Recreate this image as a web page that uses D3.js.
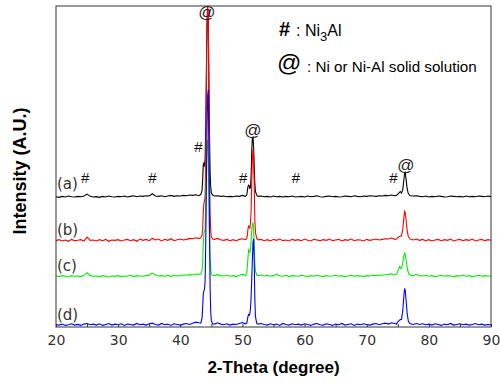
<!DOCTYPE html>
<meta charset="UTF-8">
<html>
<head>
	<title>XRD patterns</title>
	<script src="https://d3js.org/d3.v7.min.js"></script>
	<style>
		body { margin: 0; background: #fff; }
		text { font-family: "Liberation Sans", Arial, sans-serif; }
	</style>
</head>
<body>
	<svg id="xrd" width="500" height="383"></svg>

	<script>
		// 2-theta grid of the baseline readings: 20 .. 90 every 0.5 deg
		var thetaStart = 20, thetaStep = 0.5;

		var seriesLabels = ["(a)", "(b)", "(c)", "(d)"];
		var offsets = [400, 264, 152, 0];
		var colors = ["#000000", "#ff0000", "#00f000", "#0000ff"];

		// baseline readings (null where a peak list takes over)
		var baseA = [6,4,7,5,8,6,5,7,6,8, 14,7,5,6,4,7,5,8,6,5, 7,6,8,5,7,9,6,8,7,9, 8,15,8,7,9,6,8,10,7,9,
			8,10,9,11,10,12,null,null,null,null, null,null,9,7,8,6,7,6,8,7, 10,null,null,null,null,null,8,6,7,5,
			8,6,7,5,7,6,8,5,6,7, 5,8,6,7,9,6,5,7,8,6, 7,5,6,8,7,6,9,7,6,8, 7,9,8,7,9,8,10,9,11,null,
			null,null,null,null,null,null,9,7,6,8, 5,7,6,8,7,5,6,8,7,6, 7,5,8,6,7,6,8,7,6,8, 6];
		var baseB = [5,8,4,7,3,9,5,6,8,4, 16,6,7,4,8,5,9,3,7,6, 8,4,7,9,5,8,3,10,6,9, 5,12,7,10,4,9,6,11,5,8,
			10,7,9,12,11,14,null,null,null,null, null,null,12,8,6,9,5,8,4,9, 11,null,null,null,null,null,9,5,8,4,
			9,6,10,5,7,4,9,6,8,5, 10,6,4,9,7,5,8,6,10,5, 7,9,4,8,6,10,5,8,7,4, 9,6,8,10,7,9,11,10,13,null,
			null,null,null,null,null,null,10,6,9,5, 8,4,7,9,5,8,6,10,4,7, 9,5,8,6,10,4,7,9,5,8, 6];
		var baseC = [7,5,8,6,4,8,6,7,5,9, 17,8,6,7,5,8,6,4,7,6, 8,5,7,6,9,5,8,7,6,8, 9,16,10,7,8,6,9,5,10,7,
			8,10,9,11,10,13,null,null,null,null, null,null,11,8,7,9,6,8,5,9, 12,null,null,null,null,null,10,7,9,6,
			8,13,7,6,9,5,8,7,6,9, 7,5,8,6,9,7,5,8,6,7, 9,6,8,5,7,9,6,8,7,5, 8,7,9,8,10,9,11,12,14,null,
			null,null,null,null,null,null,12,8,7,9, 6,8,5,7,9,6,8,7,5,8, 7,9,6,8,5,7,9,6,8,7, 6];
		var baseD = [8,6,9,5,7,10,6,8,5,9, 11,7,9,6,10,5,8,11,6,9, 7,10,5,9,8,6,11,7,9,6, 10,12,8,6,11,7,9,5,10,8,
			6,9,11,8,12,15,null,null,null,null, null,null,13,9,7,10,6,9,8,11, 14,null,null,null,null,null,11,8,6,10,
			7,9,5,11,8,6,10,7,9,6, 10,8,5,9,11,7,6,10,8,5, 9,7,11,6,8,10,5,9,7,10, 8,6,9,11,7,10,12,9,13,null,
			null,null,null,null,null,null,11,8,10,7, 9,6,10,8,5,9,7,11,6,8, 10,7,9,6,8,11,7,9,6,8, 7];

		// peak regions, [2theta, intensity]
		var peaksA = [
			[43.0,9],[43.3,13],[43.5,25],[43.6,60],[43.7,105],[43.8,112],[43.9,100],[44.0,125],[44.1,230],[44.2,400],
			[44.3,540],[44.4,590],[44.5,560],[44.6,380],[44.7,200],[44.8,80],[44.9,35],[45.0,18],[45.2,11],[45.5,8],
			[50.5,7],[50.7,12],[50.8,25],[50.9,38],[51.0,42],[51.1,40],[51.2,32],[51.3,35],[51.4,70],[51.5,150],[51.6,190],
			[51.7,192],[51.8,160],[51.9,100],[52.0,45],[52.1,22],[52.3,11],[52.5,7],
			[74.5,9],[74.8,10],[75.0,14],[75.2,18],[75.4,22],[75.6,17],[75.8,28],[76.0,62],[76.1,80],[76.2,82],[76.3,66],
			[76.5,32],[76.7,15],[77.0,9],[77.5,8]
		];
		var peaksB = [
			[43.0,12],[43.3,13],[43.5,22],[43.6,42],[43.7,92],[43.8,122],[43.9,128],[44.0,145],[44.1,270],[44.2,470],
			[44.3,680],[44.4,745],[44.5,710],[44.6,460],[44.7,225],[44.8,92],[44.9,36],[45.0,16],[45.2,10],[45.5,9],
			[50.5,8],[50.7,12],[50.8,24],[50.9,42],[51.0,50],[51.1,47],[51.2,44],[51.3,60],[51.4,100],[51.5,190],[51.6,260],
			[51.7,290],[51.8,265],[51.9,170],[52.0,70],[52.1,30],[52.3,12],[52.5,8],
			[74.5,9],[74.8,10],[75.0,15],[75.2,17],[75.4,19],[75.6,20],[75.8,40],[76.0,82],[76.1,96],[76.2,92],[76.3,76],
			[76.5,38],[76.7,17],[77.0,10],[77.5,7]
		];
		var peaksC = [
			[43.0,12],[43.3,13],[43.5,24],[43.6,48],[43.7,104],[43.8,140],[43.9,146],[44.0,155],[44.1,240],[44.2,340],
			[44.3,410],[44.4,430],[44.5,390],[44.6,265],[44.7,142],[44.8,62],[44.9,26],[45.0,13],[45.2,9],[45.5,8],
			[50.5,9],[50.7,16],[50.8,36],[50.9,66],[51.0,88],[51.1,84],[51.2,80],[51.3,90],[51.4,115],[51.5,150],[51.6,168],
			[51.7,174],[51.8,155],[51.9,104],[52.0,47],[52.1,21],[52.3,10],[52.5,8],
			[74.5,10],[74.8,12],[75.0,22],[75.2,32],[75.3,36],[75.5,30],[75.7,38],[75.9,60],[76.0,72],[76.1,78],[76.2,74],
			[76.4,48],[76.6,24],[76.8,13],[77.1,9],[77.5,8]
		];
		var peaksD = [
			[43.0,13],[43.3,12],[43.5,27],[43.6,62],[43.7,104],[43.8,112],[43.9,118],[44.0,145],[44.1,270],[44.2,440],
			[44.3,620],[44.4,720],[44.5,740],[44.6,570],[44.7,305],[44.8,122],[44.9,46],[45.0,19],[45.2,10],[45.5,9],
			[50.5,10],[50.7,12],[50.8,22],[50.9,34],[51.0,39],[51.1,37],[51.2,42],[51.3,60],[51.4,95],[51.5,150],[51.6,210],
			[51.7,262],[51.8,275],[51.9,200],[52.0,85],[52.1,32],[52.3,12],[52.5,9],
			[74.5,11],[74.8,9],[75.0,16],[75.2,20],[75.4,23],[75.6,24],[75.8,50],[76.0,102],[76.1,120],[76.2,114],[76.3,92],
			[76.5,44],[76.7,18],[77.0,10],[77.5,8]
		];

		// phase markers: [2theta, intensity]
		var ni3alMarks = [[24.7,449],[35.5,449],[42.9,545],[50.1,449],[58.6,449],[74.3,449]];
		var niMarks = [[44.3,964],[51.7,595],[76.3,486]];

		var xTicks = [20, 30, 40, 50, 60, 70, 80, 90];
		var xMinorTicks = [25, 35, 45, 55, 65, 75, 85];

		var svg = d3.select("#xrd");
		var mLeft = 56, mRight = 491, mTop = 6, mBottom = 327;

		var x = d3.scaleLinear()
			.domain([20, 90])
			.range([mLeft, mRight]);
		var y = d3.scaleLinear()
			.domain([0, 1000])
			.range([mBottom, mTop]);

		svg.append("clipPath").attr("id", "plotclip")
			.append("rect")
			.attr("x", mLeft).attr("y", mTop)
			.attr("width", mRight - mLeft).attr("height", mBottom - mTop);

		function buildSeries(base, peaks){
			var pts = base.map(function(v, i){ return [thetaStart + thetaStep * i, v]; })
				.filter(function(d){ return d[1] !== null; });
			return pts.concat(peaks).sort(function(a, b){ return a[0] - b[0]; });
		}

		var series = [buildSeries(baseA, peaksA), buildSeries(baseB, peaksB),
			buildSeries(baseC, peaksC), buildSeries(baseD, peaksD)];

		var plot = svg.append("g").attr("clip-path", "url(#plotclip)");

		series.forEach(function(s, k){
			var line = d3.line()
				.x(function(d){ return x(d[0]); })
				.y(function(d){ return y(d[1] + offsets[k]); });
			plot.append("path")
				.datum(s)
				.attr("d", line)
				.attr("fill", "none")
				.attr("stroke", colors[k])
				.attr("stroke-width", 1.1);
		});

		// series labels
		svg.selectAll("text.slabel")
			.data(seriesLabels)
			.enter()
			.append("text")
				.attr("class", "slabel")
				.attr("x", x(20) + 1)
				.attr("y", function(d, i){ return y(offsets[i]) - (i == 0 ? 10 : 7); })
				.style("font-family", "'DejaVu Sans', sans-serif")
				.style("font-size", "15px")
				.attr("fill", "#333")
				.text(function(d){ return d; });

		// phase markers
		svg.selectAll("text.hash")
			.data(ni3alMarks)
			.enter()
			.append("text")
				.attr("x", function(d){ return x(d[0]); })
				.attr("y", function(d){ return y(d[1]); })
				.attr("text-anchor", "middle")
				.style("font-size", "15px")
				.attr("fill", "#111")
				.text("#");
		svg.selectAll("text.at")
			.data(niMarks)
			.enter()
			.append("text")
				.attr("x", function(d){ return x(d[0]); })
				.attr("y", function(d){ return y(d[1]); })
				.attr("text-anchor", "middle")
				.style("font-size", "17px")
				.attr("fill", "#222")
				.text("@");

		// frame
		svg.append("rect")
			.attr("x", mLeft).attr("y", mTop)
			.attr("width", mRight - mLeft).attr("height", mBottom - mTop)
			.attr("fill", "none")
			.attr("stroke", "#333")
			.attr("stroke-width", 1);

		// x axis, ticks inward
		var xAxis = d3.axisBottom(x)
			.tickValues(xTicks.concat(xMinorTicks))
			.tickSize(-3)
			.tickFormat(function(d){ return xTicks.indexOf(d) >= 0 ? d : ""; });
		var gx = svg.append("g")
			.attr("transform", "translate(0," + mBottom + ")")
			.call(xAxis);
		gx.select(".domain").remove();
		gx.selectAll(".tick line").attr("stroke", "#333");
		gx.selectAll(".tick text")
			.attr("y", 8)
			.attr("fill", "#333")
			.style("font-family", "'DejaVu Sans', sans-serif")
			.style("font-size", "14px");

		// axis titles
		svg.append("text")
			.attr("x", (mLeft + mRight) / 2)
			.attr("y", 373)
			.attr("text-anchor", "middle")
			.style("font-size", "17px")
			.style("font-weight", "bold")
			.text("2-Theta (degree)");
		svg.append("text")
			.attr("transform", "translate(26,171) rotate(-90)")
			.attr("text-anchor", "middle")
			.style("font-size", "18px")
			.style("font-weight", "bold")
			.text("Intensity (A.U.)");

		// legend
		svg.append("text")
			.attr("x", 279).attr("y", 36)
			.style("font-size", "20px")
			.style("font-weight", "bold")
			.text("#");
		var leg1 = svg.append("text")
			.attr("x", 296).attr("y", 36)
			.style("font-size", "16px");
		leg1.append("tspan").text(": Ni");
		leg1.append("tspan").attr("dy", 5).style("font-size", "13px").text("3");
		leg1.append("tspan").attr("dy", -5).text("Al");

		svg.append("text")
			.attr("x", 277).attr("y", 71)
			.style("font-size", "24px")
			.text("@");
		svg.append("text")
			.attr("x", 307).attr("y", 72)
			.style("font-size", "15.2px")
			.text(": Ni or Ni-Al solid solution");
	</script>
</body>
</html>
